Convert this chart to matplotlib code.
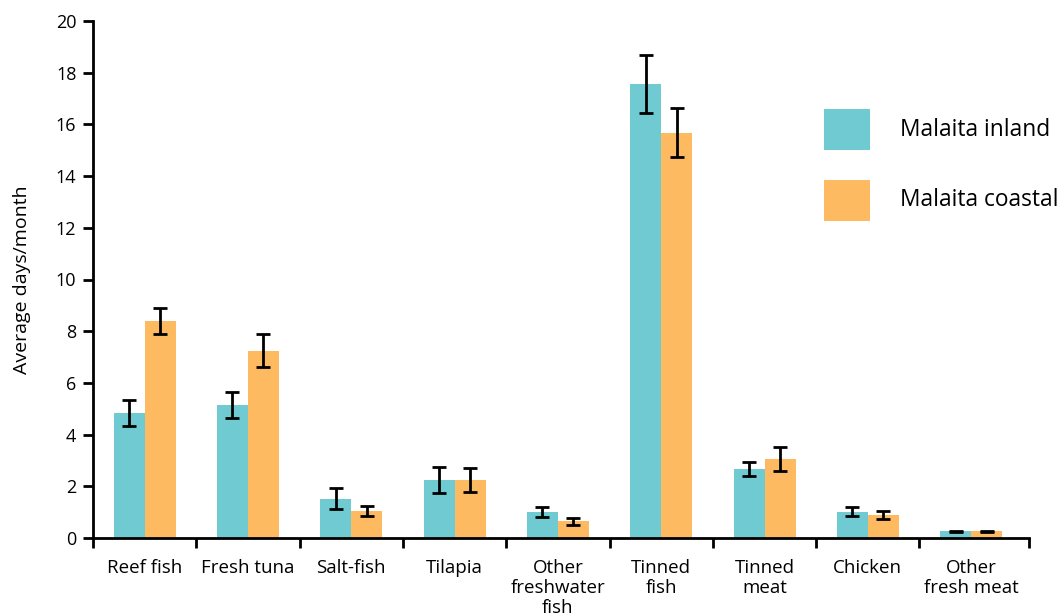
import matplotlib
matplotlib.use("Agg")
import matplotlib.pyplot as plt
from matplotlib.patches import Rectangle
import numpy as np

categories = ["Reef fish", "Fresh tuna", "Salt-fish", "Tilapia", "Other\nfreshwater\nfish",
              "Tinned\nfish", "Tinned\nmeat", "Chicken", "Other\nfresh meat"]
inland = [4.85, 5.15, 1.52, 2.24, 1.00, 17.56, 2.67, 1.02, 0.27]
inland_err = [0.50, 0.50, 0.40, 0.50, 0.20, 1.12, 0.28, 0.16, 0.02]
coastal = [8.40, 7.25, 1.04, 2.24, 0.64, 15.67, 3.06, 0.90, 0.27]
coastal_err = [0.50, 0.65, 0.20, 0.45, 0.15, 0.95, 0.45, 0.15, 0.02]
series_names = ["Malaita inland", "Malaita coastal"]
yticks = [0, 2, 4, 6, 8, 10, 12, 14, 16, 18, 20]

plt.rcParams['font.family'] = ['Open Sans', 'DejaVu Sans']

c_in = "#6FCBD1"
c_co = "#FDBA60"
colors = [c_in, c_co]

W, H = 1060, 616
fig = plt.figure(figsize=(W/100, H/100), dpi=100)
ax = fig.add_axes([93/W, 78/H, (1029-93)/W, (538-21)/H])

x = np.arange(len(categories))
w = 0.30
ekw = dict(elinewidth=2.0, capsize=5, capthick=2.0, ecolor="black")
ax.bar(x - w/2, inland, w, color=c_in, label=series_names[0], yerr=inland_err, error_kw=ekw)
ax.bar(x + w/2, coastal, w, color=c_co, label=series_names[1], yerr=coastal_err, error_kw=ekw)

ax.set_ylim(0, 20)
ax.set_xlim(-0.5, 8.56)
ax.set_yticks(yticks)
ax.set_yticklabels([str(t) for t in yticks], fontsize=13)

ax.set_xticks(list(np.arange(-0.5, 8.0, 1.0)) + [8.56])
ax.set_xticklabels([])
ax.set_xticks(x, minor=True)
ax.set_xticklabels(categories, minor=True, fontsize=13.5, linespacing=1.15, va='top')
ax.tick_params(axis='x', which='minor', length=0, pad=15)
ax.tick_params(axis='x', which='major', length=7, width=2, direction='out')
ax.tick_params(axis='y', length=7, width=2, direction='out', pad=5)

for s in ['top', 'right']:
    ax.spines[s].set_visible(False)
for s in ['left', 'bottom']:
    ax.spines[s].set_linewidth(2)

ax.set_ylabel("Average days/month", fontsize=14, labelpad=18)

# legend drawn as figure-level patches + text
for i, (name, col) in enumerate(zip(series_names, colors)):
    top = 109 + i * 71
    fig.add_artist(Rectangle((824/W, 1 - (top + 41)/H), 46/W, 41/H,
                             transform=fig.transFigure, facecolor=col, edgecolor='none'))
    fig.text(900/W, 1 - (top + 20.5)/H, name, fontsize=16.4, va='center', ha='left')

fig.savefig("out.png", dpi=100)
